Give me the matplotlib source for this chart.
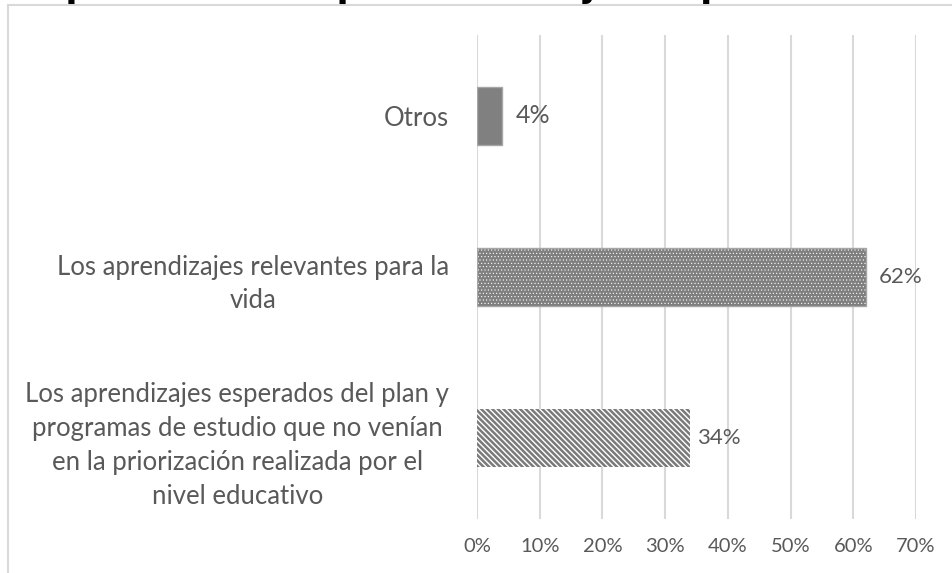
import matplotlib.pyplot as plt
from matplotlib.lines import Line2D
from matplotlib.ticker import FuncFormatter

# Data (bottom to top as drawn)
categories = [
    "Los aprendizajes esperados del plan y\nprogramas de estudio que no venían\nen la priorización realizada por el\nnivel educativo",
    "Los aprendizajes relevantes para la\nvida",
    "Otros",
]
values = [34, 62, 4]
ticks = [0, 10, 20, 30, 40, 50, 60, 70]
title = "Aspectos de los planes trabajados por el docente"

W, H = 952, 573
txt_color = "#595959"
grid_color = "#d9d9d9"
font = ["Lato", "DejaVu Sans"]

fig = plt.figure(figsize=(W / 100, H / 100), dpi=100)
ax = fig.add_axes([477 / W, (H - 519) / H, (916 - 477) / W, (519 - 35) / H])

y = list(range(len(categories)))
bar_h = 0.36

# bottom bar: diagonal stripes
b0 = ax.barh(y[0], values[0], height=bar_h, color="white", edgecolor="#7a7a7a",
             hatch="\\\\\\\\\\\\", linewidth=0, zorder=3)
# middle bar: gray with white dots
b1 = ax.barh(y[1], values[1], height=bar_h, color="#7f7f7f", edgecolor="white",
             hatch=".....", linewidth=0, zorder=3)
ax.barh(y[1], values[1], height=bar_h, fill=False, edgecolor="#a6a6a6", linewidth=1, zorder=4)
# top bar: solid gray
ax.barh(y[2], values[2], height=bar_h, color="#808080", edgecolor="#a6a6a6", linewidth=1, zorder=3)

for p in b0.patches:
    if hasattr(p, "set_hatch_linewidth"):
        p.set_hatch_linewidth(1.8)
for p in b1.patches:
    if hasattr(p, "set_hatch_linewidth"):
        p.set_hatch_linewidth(0.4)

label_sizes = [16, 16, 18]
label_offsets = [5, 9, 10]
for yi, v, fs, off in zip(y, values, label_sizes, label_offsets):
    ax.annotate(f"{v}%", (v, yi), xytext=(off, 0), textcoords="offset points",
                va="center", ha="left", fontsize=fs, color=txt_color, family=font)

ax.set_xlim(0, 70)
ax.set_ylim(-0.5, len(categories) - 0.5)
ax.set_xticks(ticks)
ax.xaxis.set_major_formatter(FuncFormatter(lambda v, p: f"{int(v)}%"))
ax.set_yticks(y)
ax.set_yticklabels(categories, multialignment="center", linespacing=1.45, fontsize=18.5)
ax.tick_params(axis="both", length=0, labelcolor=txt_color)
ax.tick_params(axis="x", labelsize=14.5, pad=14)
ax.tick_params(axis="y", pad=20)
for lab in ax.get_xticklabels() + ax.get_yticklabels():
    lab.set_family(font)
ax.grid(axis="x", color=grid_color, linewidth=1.5, zorder=0)
ax.set_axisbelow(True)
for s in ax.spines.values():
    s.set_visible(False)

# chart area border (top and left visible)
fig.add_artist(Line2D([8 / W, 1], [1 - 5 / H, 1 - 5 / H], color=grid_color, linewidth=1.5))
fig.add_artist(Line2D([8 / W, 8 / W], [0, 1 - 5 / H], color=grid_color, linewidth=1.5))

# title, cut off by the top edge
fig.text(18 / W, 1 + 3 / H, title, ha="left", va="baseline", fontsize=25,
         fontweight="bold", color="black")

fig.savefig("out.png", dpi=100)
